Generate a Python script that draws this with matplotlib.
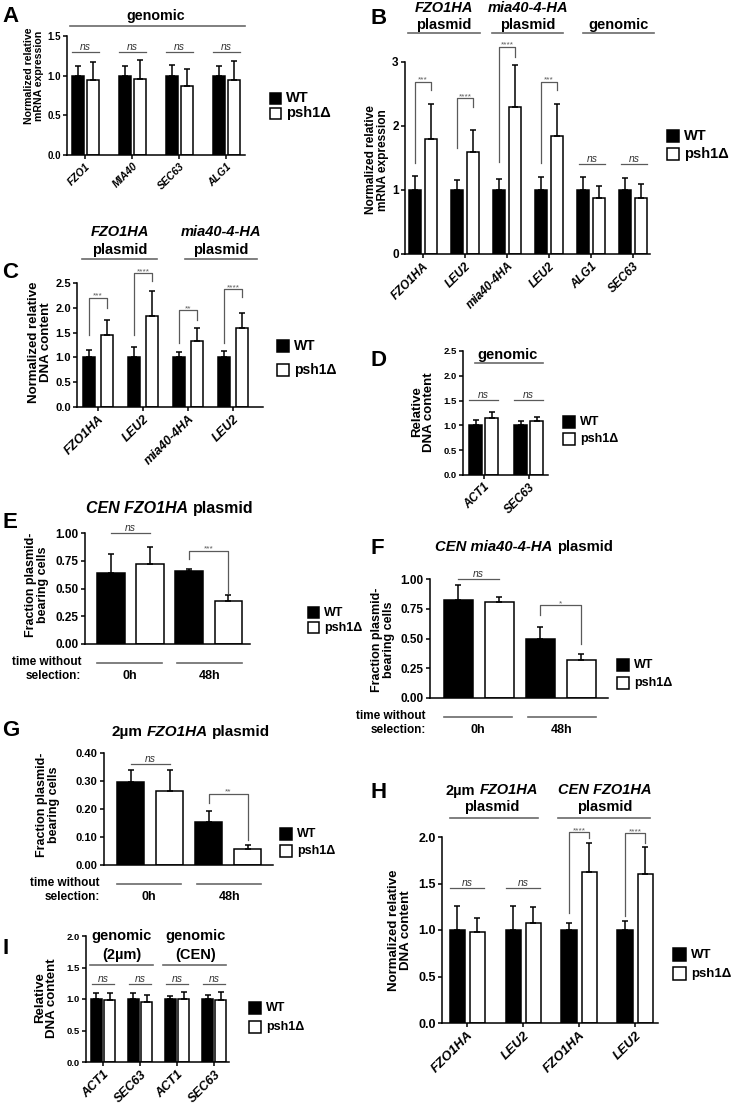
import numpy as np
import matplotlib
matplotlib.use("Agg")
import matplotlib.pyplot as plt
from matplotlib.patches import Rectangle
from matplotlib import transforms

plt.rcParams['font.family'] = ['Liberation Sans', 'DejaVu Sans']
plt.rcParams['font.weight'] = 'bold'
plt.rcParams['axes.linewidth'] = 1.1

W, H = 738, 1107
fig = plt.figure(figsize=(W / 100, H / 100), dpi=100)

GREY = '#5a5a5a'
LINE = '#6a6a6a'
rich = []

# ---------------- data ----------------
# A: mRNA, genomic genes
a_genes = ["FZO1", "MIA40", "SEC63", "ALG1"]
a_wt = [1.0, 1.0, 1.0, 1.0]
a_wt_err = [0.12, 0.12, 0.14, 0.12]
a_ko = [0.94, 0.96, 0.87, 0.95]
a_ko_err = [0.235, 0.24, 0.22, 0.24]

# B: mRNA, plasmid + genomic genes
b_genes = ["FZO1HA", "LEU2", "mia40-4HA", "LEU2", "ALG1", "SEC63"]
b_wt = [1.0, 1.0, 1.0, 1.0, 1.0, 1.0]
b_wt_err = [0.22, 0.15, 0.17, 0.2, 0.2, 0.19]
b_ko = [1.79, 1.59, 2.30, 1.84, 0.87, 0.88]
b_ko_err = [0.56, 0.34, 0.66, 0.5, 0.2, 0.22]
b_sig = ["***", "****", "****", "***"]
b_sig_top = [2.69, 2.43, 3.24, 2.69]
b_sig_left = [1.42, 1.65, 1.44, 1.42]
b_sig_right = [2.56, 2.30, 3.08, 2.56]

# C: DNA content, plasmids
c_genes = ["FZO1HA", "LEU2", "mia40-4HA", "LEU2"]
c_wt = [1.0, 1.0, 1.0, 1.0]
c_wt_err = [0.15, 0.2, 0.11, 0.13]
c_ko = [1.46, 1.84, 1.33, 1.6]
c_ko_err = [0.29, 0.5, 0.27, 0.29]
c_sig = ["***", "****", "**", "****"]
c_sig_top = [2.2, 2.7, 1.95, 2.38]
c_sig_left = [1.45, 1.45, 1.3, 1.3]
c_sig_right = [2.0, 2.55, 1.75, 2.22]

# D: DNA content, genomic
d_genes = ["ACT1", "SEC63"]
d_wt = [1.0, 1.0]
d_wt_err = [0.1, 0.09]
d_ko = [1.15, 1.08]
d_ko_err = [0.13, 0.09]

# E/F/G: fraction plasmid-bearing cells (WT 0h, psh1 0h, WT 48h, psh1 48h)
e_vals = [0.64, 0.72, 0.66, 0.39]
e_err = [0.17, 0.15, 0.02, 0.05]
f_vals = [0.82, 0.81, 0.50, 0.32]
f_err = [0.13, 0.04, 0.10, 0.05]
g_vals = [0.295, 0.265, 0.155, 0.057]
g_err = [0.045, 0.073, 0.038, 0.015]
time_groups = ["0h", "48h"]

# H: DNA content, 2um vs CEN plasmids
h_genes = ["FZO1HA", "LEU2", "FZO1HA", "LEU2"]
h_wt = [1.0, 1.0, 1.0, 1.0]
h_wt_err = [0.26, 0.26, 0.08, 0.1]
h_ko = [0.98, 1.07, 1.62, 1.6]
h_ko_err = [0.15, 0.18, 0.32, 0.29]

# I: DNA content, genomic controls
i_genes = ["ACT1", "SEC63", "ACT1", "SEC63"]
i_wt = [1.0, 1.0, 1.0, 1.0]
i_wt_err = [0.09, 0.1, 0.05, 0.07]
i_ko = [0.99, 0.96, 1.0, 0.99]
i_ko_err = [0.1, 0.1, 0.11, 0.12]

ekw = dict(ecolor='black', elinewidth=1.1, capsize=2.5, capthick=1.1)


def add_ax(l, t, r, b, xlim, ylim, yticks, fmt, fs):
    ax = fig.add_axes([l / W, 1 - b / H, (r - l) / W, (b - t) / H])
    for s in ['top', 'right']:
        ax.spines[s].set_visible(False)
    ax.set_xlim(xlim)
    ax.set_ylim(ylim)
    ax.set_yticks(yticks)
    ax.set_yticklabels([fmt.format(v) for v in yticks], fontsize=fs, fontweight='bold')
    ax.tick_params(axis='both', width=1.1, length=3, pad=1.5)
    return ax


def pair_bars(ax, genes, wt, wt_err, ko, ko_err, w, d, fs):
    x = np.arange(len(genes))
    z = np.zeros(len(genes))
    ax.bar(x - d, wt, w, yerr=[z, wt_err], color='black', edgecolor='black', linewidth=1.1, error_kw=ekw)
    ax.bar(x + d, ko, w, yerr=[z, ko_err], color='white', edgecolor='black', linewidth=1.1, error_kw=ekw)
    ax.set_xticks(x)
    ax.set_xticklabels(genes, rotation=45, ha='right', rotation_mode='anchor', style='italic',
                       fontsize=fs, fontweight='bold')
    return x


def time_bars(ax, vals, errs, w):
    x = np.arange(len(vals))
    z = np.zeros(len(vals))
    ax.bar(x, vals, w, yerr=[z, errs], color=['black', 'white', 'black', 'white'],
           edgecolor='black', linewidth=1.1, error_kw=ekw)
    ax.set_xticks([])
    return x


def bracket(ax, x1, x2, top, y1, y2, label, fs=6):
    ax.plot([x1, x1, x2, x2], [y1, top, top, y2], color=GREY, lw=0.9, clip_on=False)
    ax.text((x1 + x2) / 2, top, label, ha='center', va='baseline', fontsize=fs, color=GREY,
            fontweight='normal', clip_on=False)


def ns_mark(ax, x1, x2, y, fs=7.5):
    ax.plot([x1, x2], [y, y], color=GREY, lw=0.9, clip_on=False)
    ax.text((x1 + x2) / 2, y, 'ns', ha='center', va='bottom', fontsize=fs, style='italic',
            fontweight='normal', color='#333333', clip_on=False)


def hline(ax, x1, x2, y):
    ax.plot([x1, x2], [y, y], color=LINE, lw=1.2, clip_on=False)


def htext(ax, x, y, s, fs, style='normal'):
    ax.text(x, y, s, ha='center', va='center', fontsize=fs, style=style, fontweight='bold', clip_on=False)


def rich_text(ax, x, y, parts, fs):
    t0 = ax.text(x, y, parts[0][0], style=parts[0][1], fontsize=fs, fontweight='bold',
                 ha='left', va='center', clip_on=False)
    items = [t0]
    prev = t0
    for s, st in parts[1:]:
        prev = ax.annotate(s, xy=(1, 0), xycoords=prev, xytext=(fs * 0.28, 0), textcoords='offset points',
                           style=st, fontsize=fs, fontweight='bold', ha='left', va='bottom')
        items.append(prev)
    rich.append(items)


def legend_at(x, y, size, step, fs):
    for k, (fc, lab) in enumerate([('black', 'WT'), ('white', 'psh1Δ')]):
        yy = y + k * step
        fig.add_artist(Rectangle((x / W, 1 - (yy + size) / H), size / W, size / H,
                                 transform=fig.transFigure, facecolor=fc, edgecolor='black', lw=1.1))
        fig.text((x + size + 5) / W, 1 - (yy + size / 2) / H, lab, fontsize=fs, fontweight='bold',
                 va='center', ha='left')


def ylab(x, y, s, fs):
    fig.text(x / W, 1 - y / H, s, rotation=90, ha='center', va='center', fontsize=fs,
             fontweight='bold', linespacing=1.05)


def letter(x, y, s):
    fig.text(x / W, 1 - y / H, s, fontsize=16, fontweight='bold', ha='left', va='center')


def time_labels(ax, fs=8.5):
    xt = ax.get_xaxis_transform()
    t_line = transforms.offset_copy(xt, fig=fig, y=-19, units='dots')
    t_row1 = transforms.offset_copy(ax.transAxes, fig=fig, x=-4, y=-18, units='dots')
    t_row2 = transforms.offset_copy(ax.transAxes, fig=fig, x=-4, y=-32, units='dots')
    t_grp = transforms.offset_copy(xt, fig=fig, y=-32, units='dots')
    ax.text(0, 0, 'time without', transform=t_row1, ha='right', va='center', fontsize=fs, fontweight='bold')
    ax.text(0, 0, 'selection:', transform=t_row2, ha='right', va='center', fontsize=fs, fontweight='bold')
    for (x1, x2), g in zip([(-0.35, 1.3), (1.7, 3.35)], time_groups):
        ax.plot([x1, x2], [0, 0], transform=t_line, color=LINE, lw=1.2, clip_on=False)
        ax.text((x1 + x2) / 2, 0, g, transform=t_grp, ha='center', va='center', fontsize=fs + 0.5,
                fontweight='bold')


# ---------------- A ----------------
ax = add_ax(67, 36, 245, 155, (-0.39, 3.40), (0, 1.5), [0, 0.5, 1.0, 1.5], '{:.1f}', 7)
x = pair_bars(ax, a_genes, a_wt, a_wt_err, a_ko, a_ko_err, 0.26, 0.16, 7.5)
for xi in x:
    ns_mark(ax, xi - 0.29, xi + 0.29, 1.3)
hline(ax, -0.33, 3.40, 1.625)
htext(ax, 1.5, 1.75, 'genomic', 10.3)
legend_at(270, 93, 11, 15, 10.5)
ylab(34, 76, 'Normalized relative\nmRNA expression', 7.6)
letter(2, 17, 'A')

# ---------------- B ----------------
ax = add_ax(405, 62, 650, 254, (-0.43, 5.40), (0, 3), [0, 1, 2, 3], '{:.0f}', 8.5)
x = pair_bars(ax, b_genes, b_wt, b_wt_err, b_ko, b_ko_err, 0.29, 0.19, 8.5)
for k in range(4):
    bracket(ax, x[k] - 0.19, x[k] + 0.19, b_sig_top[k], b_sig_left[k], b_sig_right[k], b_sig[k])
for k in [4, 5]:
    ns_mark(ax, x[k] - 0.3, x[k] + 0.34, 1.41)
hline(ax, -0.36, 1.36, 3.45)
hline(ax, 1.64, 3.33, 3.45)
hline(ax, 3.8, 5.5, 3.45)
htext(ax, 0.5, 3.84, 'FZO1HA', 10.5, 'italic')
htext(ax, 0.5, 3.58, 'plasmid', 10.5)
htext(ax, 2.5, 3.84, 'mia40-4-HA', 10.5, 'italic')
htext(ax, 2.5, 3.58, 'plasmid', 10.5)
htext(ax, 4.65, 3.58, 'genomic', 10.5)
legend_at(667, 130, 12, 18, 10.5)
ylab(377, 160, 'Normalized relative\nmRNA expression', 8.6)
letter(371, 19, 'B')

# ---------------- C ----------------
ax = add_ax(77, 283, 263, 407, (-0.47, 3.66), (0, 2.5), [0, 0.5, 1.0, 1.5, 2.0, 2.5], '{:.1f}', 8)
x = pair_bars(ax, c_genes, c_wt, c_wt_err, c_ko, c_ko_err, 0.27, 0.2, 9)
for k in range(4):
    bracket(ax, x[k] - 0.2, x[k] + 0.2, c_sig_top[k], c_sig_left[k], c_sig_right[k], c_sig[k])
hline(ax, -0.36, 1.31, 2.98)
hline(ax, 1.93, 3.53, 2.98)
htext(ax, 0.49, 3.53, 'FZO1HA', 10.5, 'italic')
htext(ax, 0.49, 3.17, 'plasmid', 10.5)
htext(ax, 2.73, 3.53, 'mia40-4-HA', 10.5, 'italic')
htext(ax, 2.73, 3.17, 'plasmid', 10.5)
legend_at(277, 340, 12, 24, 10)
ylab(40, 342, 'Normalized relative\nDNA content', 9.5)
letter(2, 273, 'C')

# ---------------- D ----------------
ax = add_ax(463, 351, 548, 475, (-0.46, 1.43), (0, 2.5), [0, 0.5, 1.0, 1.5, 2.0, 2.5], '{:.1f}', 6.8)
x = pair_bars(ax, d_genes, d_wt, d_wt_err, d_ko, d_ko_err, 0.28, 0.18, 8.5)
for xi in x:
    ns_mark(ax, xi - 0.32, xi + 0.32, 1.51)
hline(ax, -0.19, 1.32, 2.26)
htext(ax, 0.54, 2.42, 'genomic', 10.5)
legend_at(563, 416, 12, 17, 9)
ylab(423, 412, 'Relative\nDNA content', 9.5)
letter(371, 361, 'D')

# ---------------- E ----------------
ax = add_ax(85, 533, 250, 644, (-0.67, 3.56), (0, 1.0), [0, 0.25, 0.5, 0.75, 1.0], '{:.2f}', 8.5)
x = time_bars(ax, e_vals, e_err, 0.7)
ns_mark(ax, x[0], x[1], 1.0)
bracket(ax, x[2], x[3], 0.84, 0.77, 0.46, '***')
rich_text(ax, 1.5, 1.22, [('CEN FZO1HA', 'italic'), ('plasmid', 'normal')], 11.5)
time_labels(ax)
legend_at(308, 607, 11, 15, 9)
ylab(37, 585, 'Fraction plasmid-\nbearing cells', 9)
letter(2, 522, 'E')

# ---------------- F ----------------
ax = add_ax(430, 579, 608, 698, (-0.69, 3.65), (0, 1.0), [0, 0.25, 0.5, 0.75, 1.0], '{:.2f}', 8.5)
x = time_bars(ax, f_vals, f_err, 0.7)
ns_mark(ax, x[0], x[1], 1.0)
bracket(ax, x[2], x[3], 0.78, 0.70, 0.45, '*')
rich_text(ax, 1.6, 1.27, [('CEN mia40-4-HA', 'italic'), ('plasmid', 'normal')], 10.7)
time_labels(ax)
legend_at(617, 659, 12, 18, 9)
ylab(383, 640, 'Fraction plasmid-\nbearing cells', 9)
letter(371, 549, 'F')

# ---------------- G ----------------
ax = add_ax(104, 753, 273, 865, (-0.68, 3.65), (0, 0.4), [0, 0.1, 0.2, 0.3, 0.4], '{:.2f}', 8)
x = time_bars(ax, g_vals, g_err, 0.7)
ns_mark(ax, x[0], x[1], 0.36)
bracket(ax, x[2], x[3], 0.254, 0.22, 0.09, '**')
rich_text(ax, 1.55, 0.475, [('2µm', 'normal'), ('FZO1HA', 'italic'), ('plasmid', 'normal')], 11)
time_labels(ax)
legend_at(280, 828, 12, 17, 9)
ylab(48, 805, 'Fraction plasmid-\nbearing cells', 9)
letter(2, 731, 'G')

# ---------------- H ----------------
ax = add_ax(442, 837, 658, 1023, (-0.45, 3.41), (0, 2.0), [0, 0.5, 1.0, 1.5, 2.0], '{:.1f}', 9)
x = pair_bars(ax, h_genes, h_wt, h_wt_err, h_ko, h_ko_err, 0.27, 0.18, 9.5)
for k in [0, 1]:
    ns_mark(ax, x[k] - 0.3, x[k] + 0.3, 1.45)
bracket(ax, x[2] - 0.18, x[2] + 0.18, 2.05, 1.18, 1.99, '****')
bracket(ax, x[3] - 0.18, x[3] + 0.18, 2.04, 1.15, 1.94, '****')
hline(ax, -0.31, 1.26, 2.2)
hline(ax, 1.62, 3.26, 2.2)
rich_text(ax, 0.44, 2.5, [('2µm', 'normal'), ('FZO1HA', 'italic')], 10.5)
htext(ax, 0.44, 2.32, 'plasmid', 10.5)
htext(ax, 2.46, 2.5, 'CEN FZO1HA', 10.5, 'italic')
htext(ax, 2.46, 2.32, 'plasmid', 10.5)
legend_at(673, 948, 13, 19, 9.5)
ylab(400, 930, 'Normalized relative\nDNA content', 9.5)
letter(371, 792, 'H')

# ---------------- I ----------------
ax = add_ax(86, 936, 229, 1062, (-0.46, 3.40), (0, 2.0), [0, 0.5, 1.0, 1.5, 2.0], '{:.1f}', 6.8)
x = pair_bars(ax, i_genes, i_wt, i_wt_err, i_ko, i_ko_err, 0.3, 0.18, 9)
for xi in x:
    ns_mark(ax, xi - 0.3, xi + 0.3, 1.24)
hline(ax, -0.35, 1.35, 1.54)
hline(ax, 1.62, 3.32, 1.54)
htext(ax, 0.51, 2.0, 'genomic', 10.5)
htext(ax, 0.51, 1.70, '(2µm)', 10.5)
htext(ax, 2.49, 2.0, 'genomic', 10.5)
htext(ax, 2.49, 1.70, '(CEN)', 10.5)
legend_at(249, 1002, 12, 19, 9)
ylab(46, 998, 'Relative\nDNA content', 9.5)
letter(2, 948, 'I')

# centre the mixed-style titles
fig.canvas.draw()
rend = fig.canvas.get_renderer()
for items in rich:
    x0 = items[0].get_window_extent(rend).x0
    x1 = items[-1].get_window_extent(rend).x1
    items[0].set_transform(transforms.offset_copy(items[0].get_transform(), fig=fig,
                                                  x=-(x1 - x0) / 2, units='dots'))

fig.savefig('out.png', dpi=100)
